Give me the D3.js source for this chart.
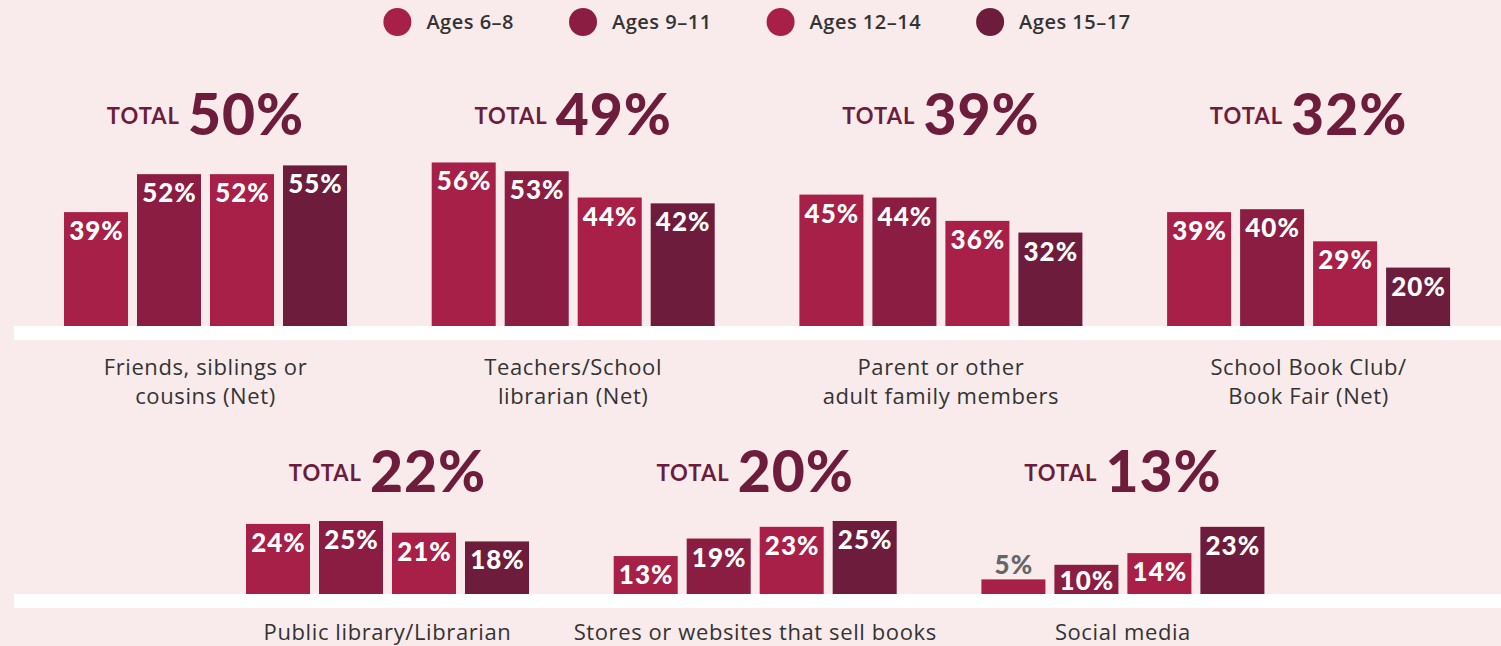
<!DOCTYPE html>
<html>
<head>
<meta charset="utf-8">
<script src="https://cdn.jsdelivr.net/npm/d3@7/dist/d3.min.js"></script>
<style>
  html, body { margin: 0; padding: 0; background: #f9ebec; }
  svg { display: block; }
  text { font-family: "Lato", "Open Sans", sans-serif; }
  .sans { font-family: "Open Sans", "Lato", sans-serif; }
</style>
</head>
<body>
<svg id="chart" width="1501" height="646"></svg>
<script>
// Sources of book recommendations, by age group
const categoryLines = [
  ["Friends, siblings or", "cousins (Net)"],
  ["Teachers/School", "librarian (Net)"],
  ["Parent or other", "adult family members"],
  ["School Book Club/", "Book Fair (Net)"],
  ["Public library/Librarian"],
  ["Stores or websites that sell books"],
  ["Social media"]
];
const totals     = [50, 49, 39, 32, 22, 20, 13];
const ages6to8   = [39, 56, 45, 39, 24, 13, 5];
const ages9to11  = [52, 53, 44, 40, 25, 19, 10];
const ages12to14 = [52, 44, 36, 29, 21, 23, 14];
const ages15to17 = [55, 42, 32, 20, 18, 25, 23];
const ageLabels  = ["Ages 6–8", "Ages 9–11", "Ages 12–14", "Ages 15–17"];
const ageColors  = ["#a72048", "#8c1d42", "#a82048", "#6d1c3c"];

const series = [ages6to8, ages9to11, ages12to14, ages15to17];
const rows = [[0, 1, 2, 3], [4, 5, 6]];

const svg = d3.select("#chart");
const W = 1501;

// layout of the two rows of small multiples
const rowBase   = [326, 594];   // bar baseline per row
const rowTotalY = [135, 492];   // baseline of "TOTAL xx%" per row
const rowLabelY = [375, 640];   // first line of category label per row
const rowShift  = [0, 182];     // horizontal offset of each row's first group

const groupStart = d3.scaleLinear().domain([0, 1]).range([64, 431.7]);
const xInner = d3.scaleBand().domain(d3.range(4)).range([0, 283]).paddingInner(0.123);
const yLen = d3.scaleLinear().domain([0, 100]).range([0, 292]);

// white baseline bands
rowBase.forEach(b => {
  svg.append("rect").attr("x", 14).attr("y", b).attr("width", W - 14).attr("height", 14).attr("fill", "#ffffff");
});

rows.forEach((idxs, r) => {
  idxs.forEach((ci, col) => {
    const gx = groupStart(col) + rowShift[r];
    const cx = gx + 283 / 2;
    const g = svg.append("g").attr("transform", `translate(${gx},0)`);

    series.forEach((s, si) => {
      const v = s[ci];
      const h = yLen(v);
      const x = xInner(si);
      const top = rowBase[r] - h;
      g.append("rect")
        .attr("x", x).attr("y", top)
        .attr("width", xInner.bandwidth()).attr("height", h)
        .attr("fill", ageColors[si]);
      const inside = h > 26;
      g.append("text")
        .attr("x", x + xInner.bandwidth() / 2 + 0.5)
        .attr("y", inside ? Math.min(top + 28, rowBase[r] - 4) : top - 5)
        .attr("text-anchor", "middle")
        .attr("font-size", 26).attr("font-weight", 900)
        .attr("letter-spacing", 1)
        .attr("fill", inside ? "#ffffff" : "#666666")
        .text(v + "%");
    });

    // total heading
    const t = svg.append("text")
      .attr("x", cx).attr("y", rowTotalY[r])
      .attr("text-anchor", "middle")
      .attr("fill", "#6d1c3c");
    t.append("tspan").attr("dy", -11).attr("font-size", 22).attr("font-weight", 700)
      .attr("letter-spacing", 1).text("TOTAL");
    t.append("tspan").attr("dx", 8).attr("dy", 11).attr("font-size", 57).attr("font-weight", 900)
      .attr("letter-spacing", 1).text(totals[ci] + "%");

    // category label
    const lab = svg.append("text")
      .attr("class", "sans")
      .attr("x", cx).attr("y", rowLabelY[r])
      .attr("text-anchor", "middle")
      .attr("font-size", 22).attr("letter-spacing", 0.6).attr("fill", "#333333");
    categoryLines[ci].forEach((line, li) => {
      lab.append("tspan").attr("x", cx).attr("dy", li === 0 ? 0 : 29).text(line);
    });
  });
});

// legend, centred across the top
const legend = svg.append("g");
let lx = 0;
ageLabels.forEach((lbl, i) => {
  const item = legend.append("g").attr("transform", `translate(${lx},0)`);
  item.append("circle").attr("cx", 14).attr("cy", 22).attr("r", 14).attr("fill", ageColors[i]);
  const tx = item.append("text").attr("class", "sans").attr("x", 43).attr("y", 29)
    .attr("font-size", 20).attr("font-weight", 600).attr("letter-spacing", 0.5)
    .attr("fill", "#333333").text(lbl);
  lx += 43 + tx.node().getComputedTextLength() + 55;
});
const legW = lx - 55;
legend.attr("transform", `translate(${757 - legW / 2},0)`);
</script>
</body>
</html>
